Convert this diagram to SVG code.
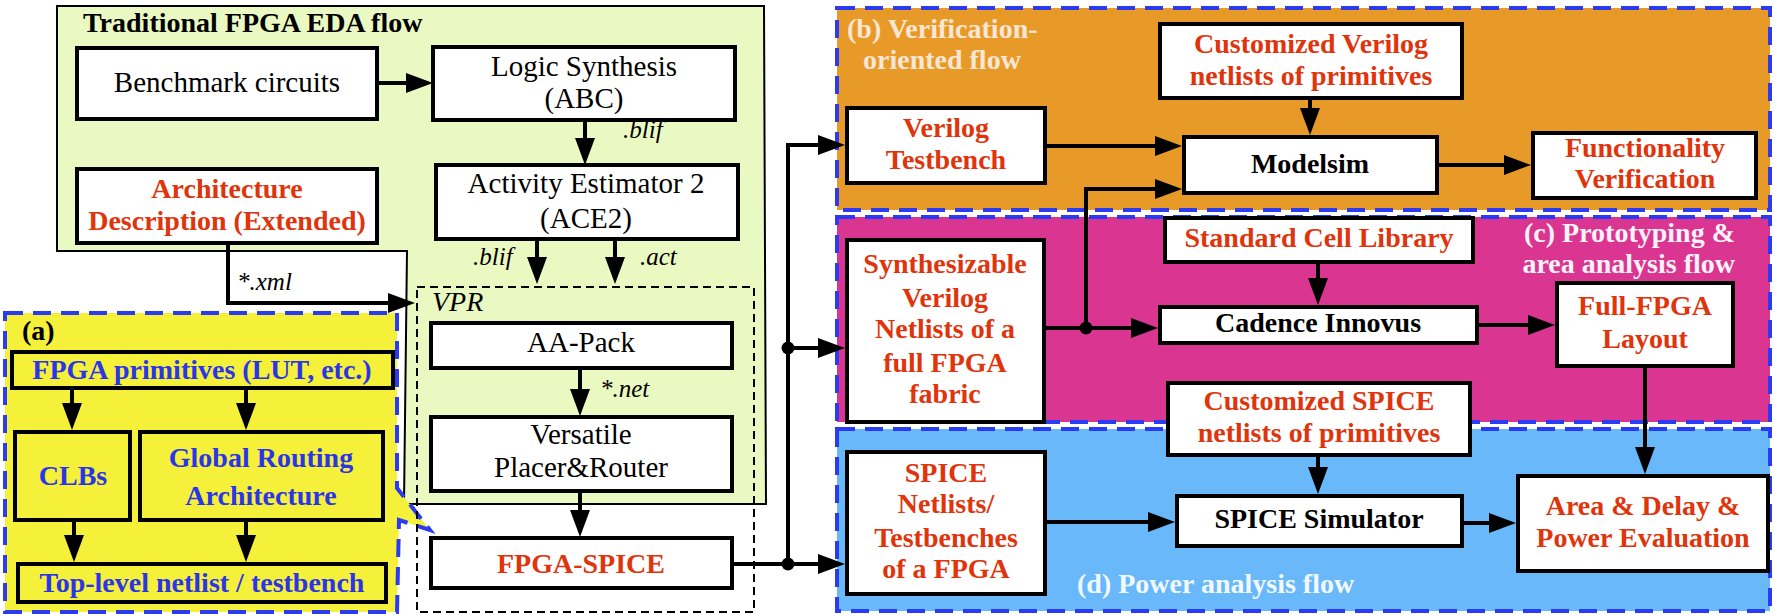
<svg xmlns="http://www.w3.org/2000/svg" width="1775" height="616" viewBox="0 0 1775 616">
<style>
.box{fill:#fff;stroke:#000;stroke-width:4}
.ybox{fill:#F5F03A;stroke:#000;stroke-width:4}
.region{stroke:#2B3BF2;stroke-width:4;stroke-dasharray:18 10}
text{font-family:"Liberation Serif","Times New Roman",serif}
.r{font-size:29px;text-anchor:middle;fill:#000}
.b{font-size:28px;font-weight:bold;text-anchor:middle}
.red{fill:#E0340C}
.blu{fill:#2B35E8}
.blk{fill:#000}
.it{font-size:25px;font-style:italic;fill:#000}
.lbl{font-size:28px;font-weight:bold}
.conn path{fill:none;stroke:#000;stroke-width:4}
</style>
<defs>
<marker id="ah" markerUnits="userSpaceOnUse" markerWidth="27" markerHeight="21" refX="17" refY="10" orient="auto">
<path d="M0,0 L27,10 L0,20 z" fill="#000"/>
</marker>
</defs>
<rect width="1775" height="616" fill="#fff"/>

<g id="traditional-flow">
<polygon points="57,6 764,6 766,504 404,504 407,251 57,251" fill="#EAF9C2" stroke="#000" stroke-width="2"/>
<text x="83" y="32" class="lbl blk">Traditional FPGA EDA flow</text>
</g>

<g id="region-a">
<polygon points="5,313 397,313 397,488 430,530 399,520 397,612 5,612" fill="#F5F03A" class="region"/>
<text x="22" y="340" class="lbl blk">(a)</text>
</g>

<g id="vpr">
<rect x="417" y="287" width="337" height="325" fill="none" stroke="#000" stroke-width="2" stroke-dasharray="8 5"/>
<text x="432" y="311" class="it" style="font-size:28px">VPR</text>
</g>

<g id="region-b">
<rect x="837" y="8" width="933" height="202" fill="#E89A28" class="region"/>
<text x="847" y="38" class="lbl" fill="#FBE6D6">(b) Verification-</text>
<text x="863" y="69" class="lbl" fill="#FBE6D6">oriented flow</text>
</g>
<g id="region-c">
<rect x="837" y="217" width="933" height="205" fill="#DA3590" class="region"/>
<text x="1735" y="242" class="lbl" fill="#FFF2F8" text-anchor="end">(c) Prototyping &amp;</text>
<text x="1735" y="273" class="lbl" fill="#FFF2F8" text-anchor="end">area analysis flow</text>
</g>
<g id="region-d">
<rect x="837" y="429" width="933" height="182" fill="#69B8FA" class="region"/>
<text x="1077" y="593" class="lbl" fill="#F2F8FF">(d) Power analysis flow</text>
</g>

<g id="connectors" class="conn">
<path d="M377,83 H423" marker-end="url(#ah)"/>
<path d="M585,120 V155" marker-end="url(#ah)"/>
<path d="M537,239 V274" marker-end="url(#ah)"/>
<path d="M615,239 V274" marker-end="url(#ah)"/>
<path d="M228,243 V303 H405" marker-end="url(#ah)"/>
<path d="M580,368 V406" marker-end="url(#ah)"/>
<path d="M580,491 V527" marker-end="url(#ah)"/>
<path d="M732,564 H835" marker-end="url(#ah)"/>
<path d="M788,564 V145 H835" marker-end="url(#ah)"/>
<path d="M788,348 H835" marker-end="url(#ah)"/>
<path d="M1045,146 H1172" marker-end="url(#ah)"/>
<path d="M1044,328 H1148" marker-end="url(#ah)"/>
<path d="M1086,328 V189 H1172" marker-end="url(#ah)"/>
<path d="M1310,98 V125" marker-end="url(#ah)"/>
<path d="M1437,165 H1521" marker-end="url(#ah)"/>
<path d="M1318,262 V295" marker-end="url(#ah)"/>
<path d="M1477,325 H1545" marker-end="url(#ah)"/>
<path d="M1645,366 V464" marker-end="url(#ah)"/>
<path d="M1318,455 V484" marker-end="url(#ah)"/>
<path d="M1045,522 H1165" marker-end="url(#ah)"/>
<path d="M1462,523 H1506" marker-end="url(#ah)"/>
<path d="M72,388 V420" marker-end="url(#ah)"/>
<path d="M246,388 V420" marker-end="url(#ah)"/>
<path d="M74,520 V552" marker-end="url(#ah)"/>
<path d="M246,520 V552" marker-end="url(#ah)"/>
<circle cx="788" cy="564" r="6.5" fill="#000"/>
<circle cx="788" cy="348" r="6.5" fill="#000"/>
<circle cx="1086" cy="328" r="6.5" fill="#000"/>
<text x="623" y="138" class="it">.blif</text>
<text x="473" y="265" class="it">.blif</text>
<text x="640" y="265" class="it">.act</text>
<text x="600" y="397" class="it">*.net</text>
<text x="237" y="290" class="it">*.xml</text>
</g>

<g id="benchmark"><rect class="box" x="77" y="48" width="300" height="71"/><text class="r" x="227" y="92">Benchmark circuits</text></g>
<g id="logic-synthesis"><rect class="box" x="433" y="47" width="302" height="73"/><text class="r" x="584" y="76">Logic Synthesis</text><text class="r" x="584" y="108">(ABC)</text></g>
<g id="ace2"><rect class="box" x="436" y="165" width="302" height="74"/><text class="r" x="586" y="193">Activity Estimator 2</text><text class="r" x="586" y="228">(ACE2)</text></g>
<g id="arch-desc"><rect class="box" x="77" y="169" width="300" height="74"/><text class="b red" x="227" y="198">Architecture</text><text class="b red" x="227" y="230">Description (Extended)</text></g>
<g id="aa-pack"><rect class="box" x="431" y="323" width="301" height="45"/><text class="r" x="581" y="352">AA-Pack</text></g>
<g id="vpr-router"><rect class="box" x="431" y="417" width="301" height="74"/><text class="r" x="581" y="444">Versatile</text><text class="r" x="581" y="477">Placer&amp;Router</text></g>
<g id="fpga-spice"><rect class="box" x="431" y="538" width="301" height="50"/><text class="b red" x="581" y="573">FPGA-SPICE</text></g>

<g id="fpga-primitives"><rect class="ybox" x="12" y="352" width="381" height="36"/><text class="b blu" x="202" y="379">FPGA primitives (LUT, etc.)</text></g>
<g id="clbs"><rect class="ybox" x="15" y="432" width="115" height="88"/><text class="b blu" x="73" y="485">CLBs</text></g>
<g id="global-routing"><rect class="ybox" x="140" y="432" width="243" height="88"/><text class="b blu" x="261" y="467">Global Routing</text><text class="b blu" x="261" y="505">Architecture</text></g>
<g id="top-level"><rect class="ybox" x="18" y="564" width="368" height="38"/><text class="b blu" x="202" y="592">Top-level netlist / testbench</text></g>

<g id="verilog-testbench"><rect class="box" x="847" y="108" width="198" height="75"/><text class="b red" x="946" y="137">Verilog</text><text class="b red" x="946" y="169">Testbench</text></g>
<g id="custom-verilog"><rect class="box" x="1160" y="24" width="302" height="74"/><text class="b red" x="1311" y="53">Customized Verilog</text><text class="b red" x="1311" y="85">netlists of primitives</text></g>
<g id="modelsim"><rect class="box" x="1184" y="137" width="253" height="56"/><text class="b blk" x="1310" y="173">Modelsim</text></g>
<g id="functionality"><rect class="box" x="1533" y="133" width="223" height="65"/><text class="b red" x="1645" y="157">Functionality</text><text class="b red" x="1645" y="188">Verification</text></g>

<g id="synth-netlists"><rect class="box" x="847" y="240" width="197" height="182"/><text class="b red" x="945" y="273">Synthesizable</text><text class="b red" x="945" y="307">Verilog</text><text class="b red" x="945" y="338">Netlists of a</text><text class="b red" x="945" y="372">full FPGA</text><text class="b red" x="945" y="403">fabric</text></g>
<g id="std-cell"><rect class="box" x="1165" y="218" width="308" height="44"/><text class="b red" x="1319" y="247">Standard Cell Library</text></g>
<g id="cadence"><rect class="box" x="1160" y="307" width="317" height="36"/><text class="b blk" x="1318" y="332">Cadence Innovus</text></g>
<g id="full-layout"><rect class="box" x="1557" y="283" width="176" height="83"/><text class="b red" x="1645" y="315">Full-FPGA</text><text class="b red" x="1645" y="348">Layout</text></g>

<g id="custom-spice"><rect class="box" x="1168" y="383" width="302" height="72"/><text class="b red" x="1319" y="410">Customized SPICE</text><text class="b red" x="1319" y="442">netlists of primitives</text></g>
<g id="spice-sim"><rect class="box" x="1177" y="496" width="285" height="50"/><text class="b blk" x="1319" y="528">SPICE Simulator</text></g>
<g id="spice-netlists"><rect class="box" x="847" y="452" width="198" height="142"/><text class="b red" x="946" y="482">SPICE</text><text class="b red" x="946" y="513">Netlists/</text><text class="b red" x="946" y="547">Testbenches</text><text class="b red" x="946" y="578">of a FPGA</text></g>
<g id="area-eval"><rect class="box" x="1518" y="476" width="250" height="95"/><text class="b red" x="1643" y="515">Area &amp; Delay &amp;</text><text class="b red" x="1643" y="547">Power Evaluation</text></g>
</svg>
